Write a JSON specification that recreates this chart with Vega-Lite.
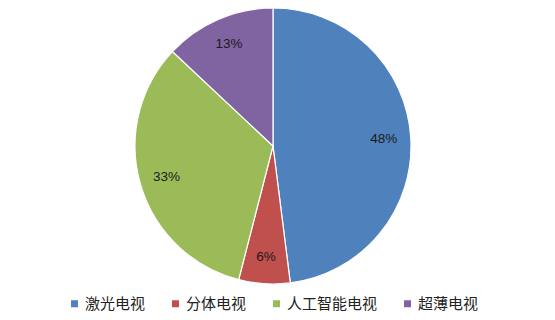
{
  "$schema": "https://vega.github.io/schema/vega-lite/v6.json",
  "width": 546,
  "height": 292,
  "padding": 0,
  "background": "white",
  "config": {
    "view": {"stroke": null},
    "legend": {"layout": {"bottom": {"anchor": "middle"}}}
  },
  "data": {
    "values": [
      {"type": "激光电视", "share": 0.48, "idx": 1},
      {"type": "分体电视", "share": 0.06, "idx": 2},
      {"type": "人工智能电视", "share": 0.33, "idx": 3},
      {"type": "超薄电视", "share": 0.13, "idx": 4}
    ]
  },
  "encoding": {
    "theta": {"field": "share", "type": "quantitative", "stack": true},
    "order": {"field": "idx", "type": "ordinal"}
  },
  "layer": [
    {
      "mark": {"type": "arc", "outerRadius": 138, "stroke": "white", "strokeWidth": 1.2},
      "encoding": {
        "color": {
          "field": "type",
          "type": "nominal",
          "scale": {
            "domain": ["激光电视", "分体电视", "人工智能电视", "超薄电视"],
            "range": ["#4F81BD", "#C0504D", "#9BBB59", "#8064A2"]
          },
          "legend": {
            "title": null,
            "orient": "bottom",
            "direction": "horizontal",
            "symbolType": "square",
            "symbolSize": 49,
            "symbolStrokeWidth": 0,
            "labelFont": "Noto Sans CJK SC",
            "labelFontSize": 15,
            "labelColor": "#222222",
            "labelOffset": 3,
            "columnPadding": 22,
            "offset": 4,
            "padding": 0
          }
        }
      }
    },
    {
      "mark": {"type": "text", "radius": 111, "font": "Liberation Sans", "fontSize": 13.5, "fill": "#1a1a1a"},
      "encoding": {
        "text": {"field": "share", "type": "quantitative", "format": ".0%"}
      }
    }
  ]
}
